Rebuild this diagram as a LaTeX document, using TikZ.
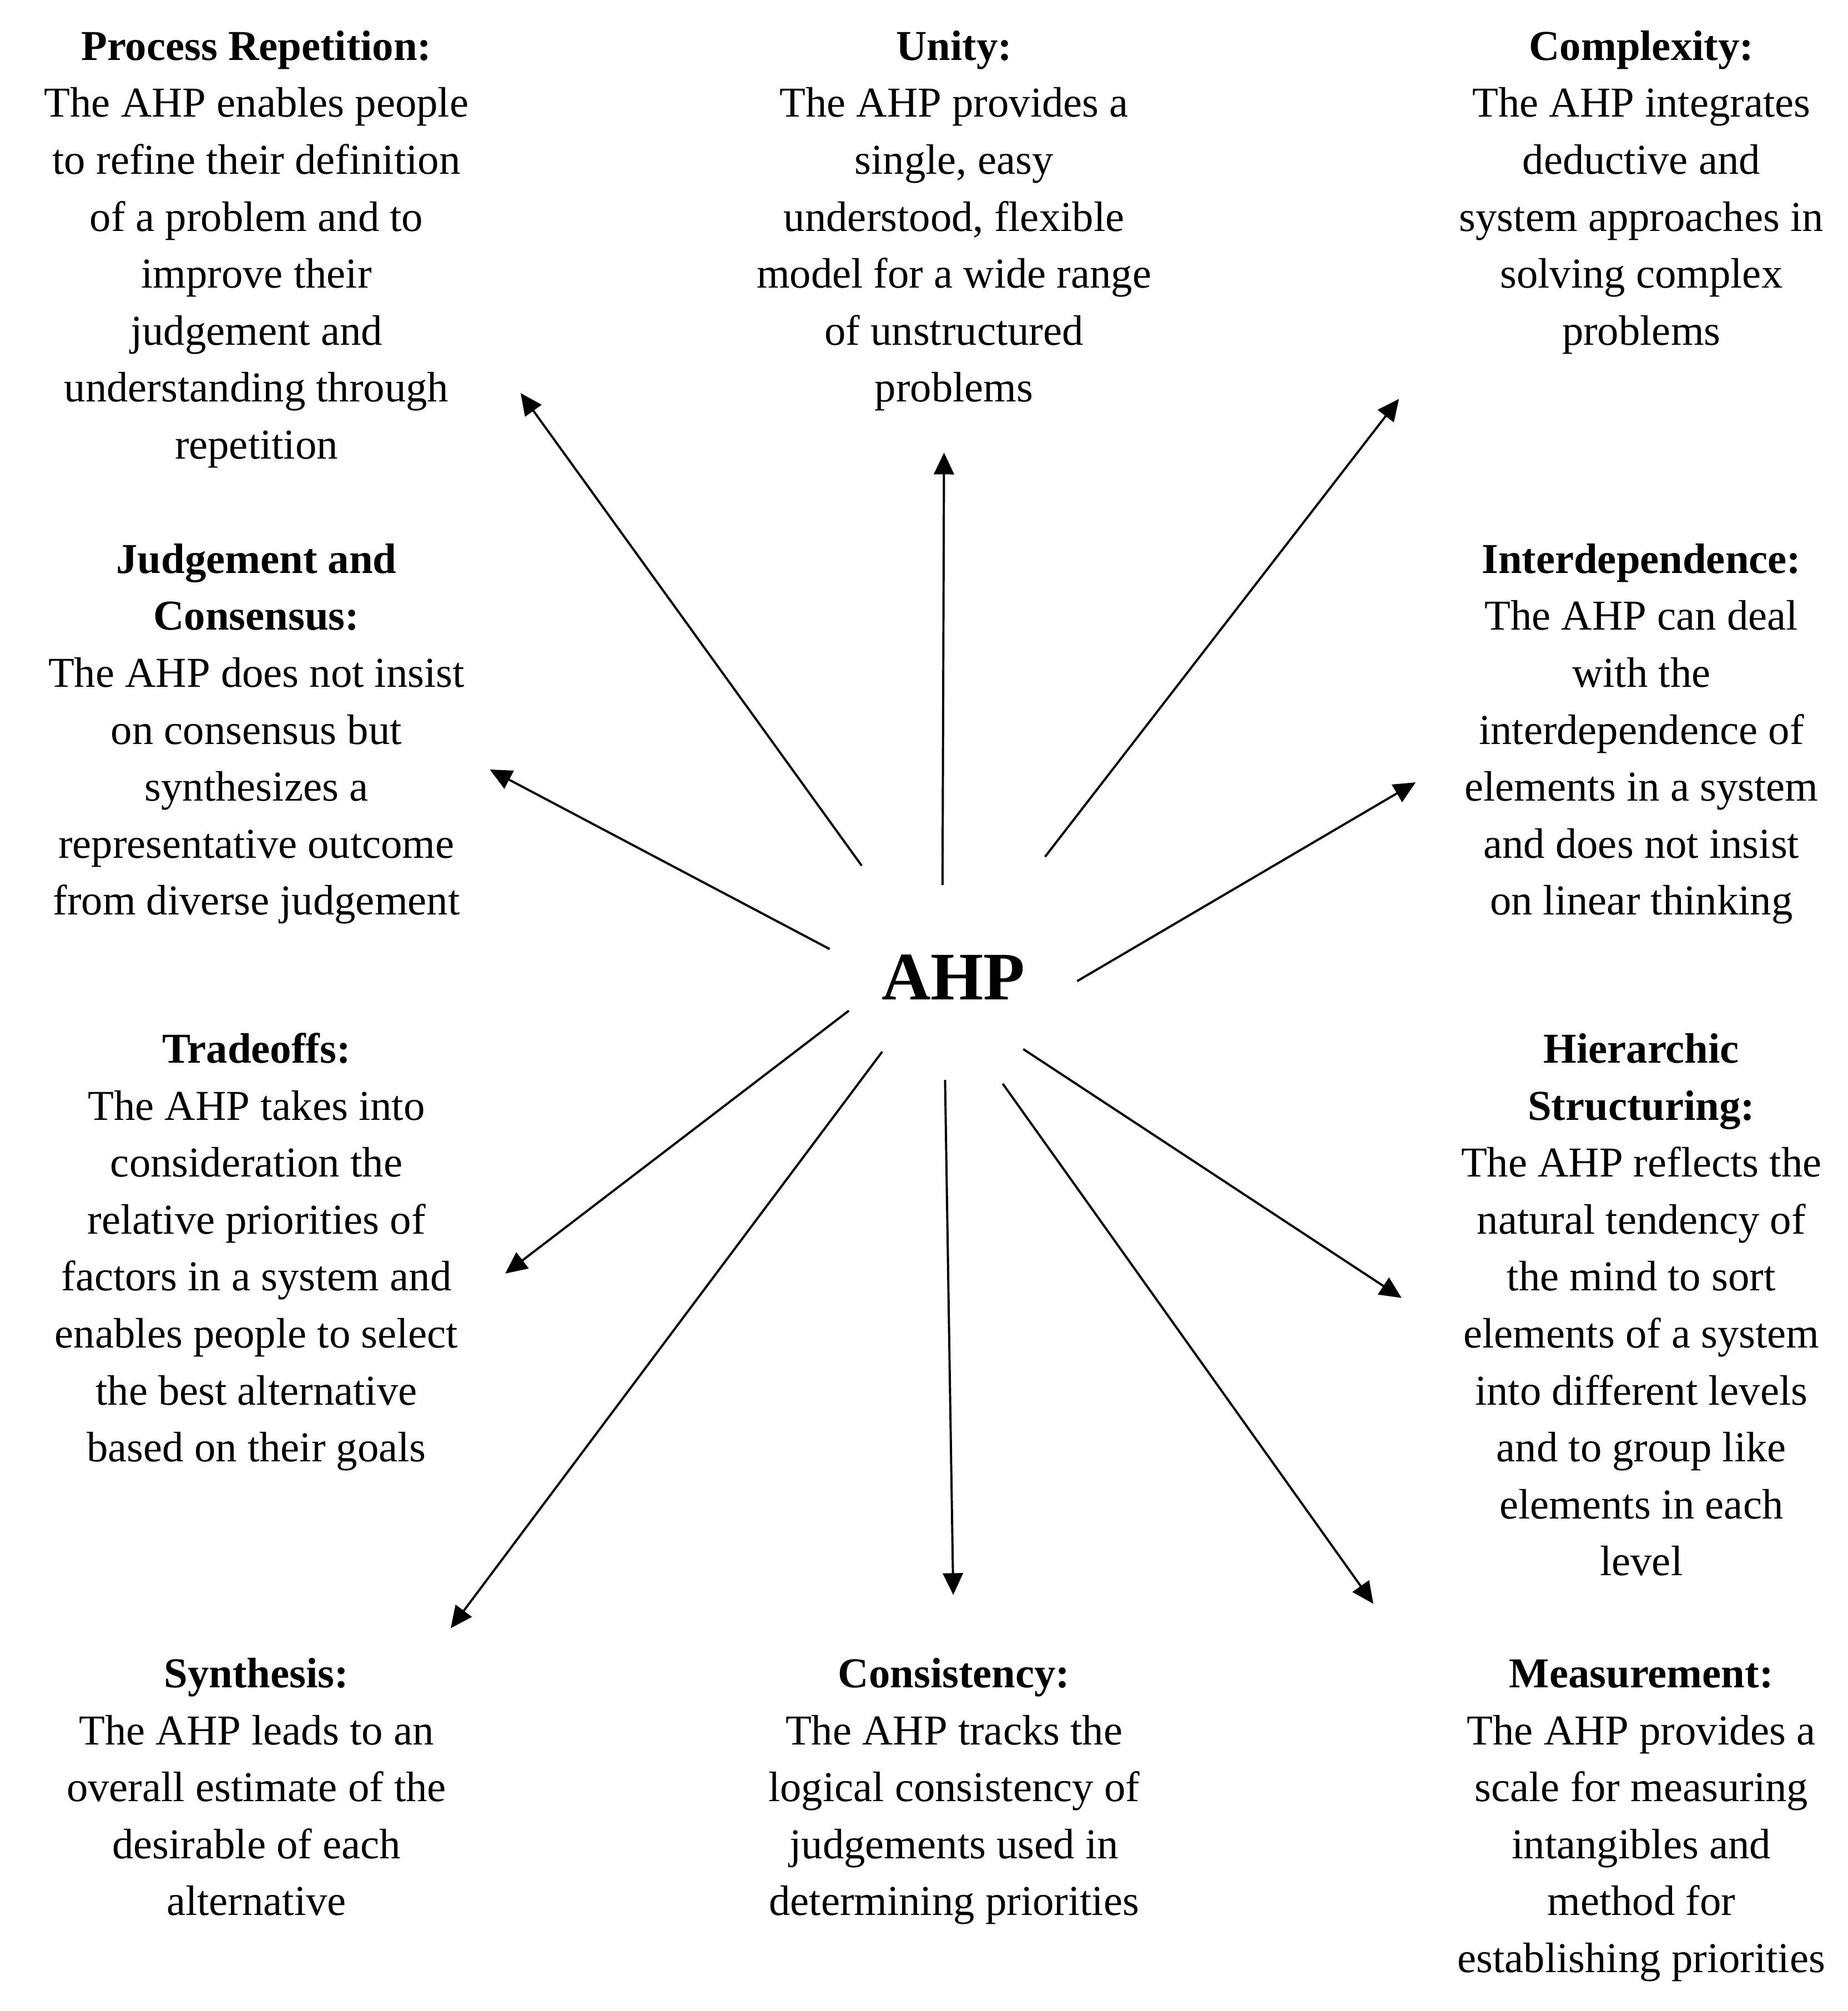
\documentclass[tikz,border=0pt]{standalone}
\usepackage{fontspec}
\setmainfont{Liberation Serif}
\usetikzlibrary{arrows.meta}
\begin{document}
\begin{tikzpicture}[x=0.5pt,y=-0.5pt,
  block/.style={anchor=north,inner sep=0pt,align=center,
    font=\fontsize{16.6pt}{22.2pt}\selectfont},
  hub/.style={anchor=base,inner sep=0pt,font=\fontsize{26.5pt}{30pt}\selectfont\bfseries},
  link/.style={line width=0.85pt,-{Triangle[length=8.5pt,width=7.8pt]}}]
\useasboundingbox (0,0) rectangle (1441,1568);
\newcommand{\fl}{\rule{0pt}{12pt}}
% central node
\node[hub] (ahp) at (743.5,779.4) {AHP};
% text blocks (north = first baseline - 24 units)
\node[block] (proc) at (200,22.5) {\fl\textbf{Process Repetition:}\\The AHP enables people\\to refine their definition\\of a problem and to\\improve their\\judgement and\\understanding through\\repetition};
\node[block] (unity) at (744,22.5) {\fl\textbf{Unity:}\\The AHP provides a\\single, easy\\understood, flexible\\model for a wide range\\of unstructured\\problems};
\node[block] (compl) at (1280,22.5) {\fl\textbf{Complexity:}\\The AHP integrates\\deductive and\\system approaches in\\solving complex\\problems};
\node[block] (judg) at (200,422.5) {\fl\textbf{Judgement and}\\\textbf{Consensus:}\\The AHP does not insist\\on consensus but\\synthesizes a\\representative outcome\\from diverse judgement};
\node[block] (inter) at (1280,422.5) {\fl\textbf{Interdependence:}\\The AHP can deal\\with the\\interdependence of\\elements in a system\\and does not insist\\on linear thinking};
\node[block] (trade) at (200,804.5) {\fl\textbf{Tradeoffs:}\\The AHP takes into\\consideration the\\relative priorities of\\factors in a system and\\enables people to select\\the best alternative\\based on their goals};
\node[block] (hier) at (1280,804.5) {\fl\textbf{Hierarchic}\\\textbf{Structuring:}\\The AHP reflects the\\natural tendency of\\the mind to sort\\elements of a system\\into different levels\\and to group like\\elements in each\\level};
\node[block] (synth) at (200,1291.5) {\fl\textbf{Synthesis:}\\The AHP leads to an\\overall estimate of the\\desirable of each\\alternative};
\node[block] (cons) at (744,1291.5) {\fl\textbf{Consistency:}\\The AHP tracks the\\logical consistency of\\judgements used in\\determining priorities};
\node[block] (meas) at (1280,1291.5) {\fl\textbf{Measurement:}\\The AHP provides a\\scale for measuring\\intangibles and\\method for\\establishing priorities};
% connector end points
\coordinate (s1) at (672,675);  \coordinate (t1) at (406,306.5);
\coordinate (s2) at (735,690);  \coordinate (t2) at (736.2,352.9);
\coordinate (s3) at (815,668);  \coordinate (t3) at (1091,311);
\coordinate (s4) at (647,740);  \coordinate (t4) at (382,600);
\coordinate (s5) at (840,765);  \coordinate (t5) at (1104,610);
\coordinate (s6) at (662,788);  \coordinate (t6) at (394,993);
\coordinate (s7) at (798,818);  \coordinate (t7) at (1093,1012);
\coordinate (s8) at (688,820);  \coordinate (t8) at (351.5,1269.5);
\coordinate (s9) at (737,842);  \coordinate (t9) at (743.4,1243.6);
\coordinate (s10) at (782,845); \coordinate (t10) at (1071,1250.5);
\foreach \i in {1,...,10} {\draw[link] (s\i) -- (t\i);}
\end{tikzpicture}
\end{document}
